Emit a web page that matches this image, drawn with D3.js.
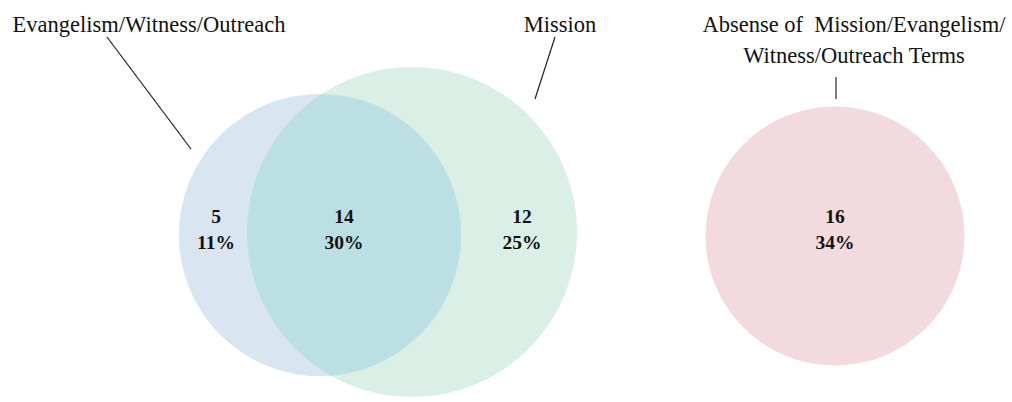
<!DOCTYPE html>
<html>
<head>
<meta charset="utf-8">
<script src="https://cdn.jsdelivr.net/npm/d3@7/dist/d3.min.js"></script>
<style>
  body { margin: 0; background: #fff; }
  text { font-family: "Liberation Serif", "Times New Roman", serif; fill: #111; }
</style>
</head>
<body>
<div id="chart"></div>
<script>
// region counts and shares (evangelism only, both, mission only, neither)
var regionCounts = [5, 14, 12, 16];
var regionPercents = ["11%", "30%", "25%", "34%"];

// set names, one per circle
var setNames = ["Evangelism/Witness/Outreach", "Mission", "Absense of  Mission/Evangelism/|Witness/Outreach Terms"];

// set totals from the regions
var setTotals = [regionCounts[0] + regionCounts[1], regionCounts[1] + regionCounts[2], regionCounts[3]];

var svgWidth = 1012;
var svgHeight = 402;

var svg = d3.select("#chart")
            .append("svg")
            .attr("width", svgWidth)
            .attr("height", svgHeight);

// circle area follows the set size
var rScale = d3.scaleSqrt()
               .domain([0, 16])
               .range([0, 129.5]);

// layout of the circles
var centers = [
  { x: 320, y: 235 },
  { x: 412, y: 232 },
  { x: 835, y: 236 }
];
var fills = ["#d9e6f1", "#daf0e6", "#f2dade"];

var circles = setTotals.map(function(t, i) {
  return { total: t, cx: centers[i].x, cy: centers[i].y, r: rScale(t), fill: fills[i] };
});

// clip for the overlap
svg.append("defs").append("clipPath")
   .attr("id", "clipMission")
   .append("circle")
   .attr("cx", circles[1].cx)
   .attr("cy", circles[1].cy)
   .attr("r", circles[1].r);

svg.selectAll("circle.set").data(circles).enter()
   .append("circle")
   .attr("class", "set")
   .attr("cx", d => d.cx)
   .attr("cy", d => d.cy)
   .attr("r", d => d.r)
   .attr("fill", d => d.fill);

svg.append("circle")
   .attr("cx", circles[0].cx)
   .attr("cy", circles[0].cy)
   .attr("r", circles[0].r)
   .attr("clip-path", "url(#clipMission)")
   .attr("fill", "#bcdfe3");

// region label positions
var regionX = [216, 344, 522, 835];
var regionY = 223;

var labels = svg.selectAll("g.region").data(regionCounts).enter()
   .append("g")
   .attr("class", "region")
   .attr("transform", (d, i) => `translate(${regionX[i]}, ${regionY})`);

labels.append("text")
      .style("font-size", "19.5px")
      .style("font-weight", "bold")
      .style("text-anchor", "middle")
      .text(d => d);

labels.append("text")
      .attr("y", 26)
      .style("font-size", "19.5px")
      .style("font-weight", "bold")
      .style("text-anchor", "middle")
      .text((d, i) => regionPercents[i]);

// set name labels with leader lines
var nameLayout = [
  { x: 149, y: 32, line: [107, 37, 191, 149] },
  { x: 560, y: 32, line: [555, 37, 535, 99] },
  { x: 854, y: 32, line: [836, 77, 836, 99] }
];

setNames.forEach(function(name, i) {
  var lay = nameLayout[i];
  var t = svg.append("text")
             .attr("x", lay.x)
             .attr("y", lay.y)
             .style("font-size", "22.5px")
             .style("text-anchor", "middle");
  name.split("|").forEach(function(part, j) {
    t.append("tspan")
     .attr("x", lay.x)
     .attr("dy", j === 0 ? 0 : 31)
     .attr("xml:space", "preserve")
     .text(part);
  });
  svg.append("line")
     .attr("x1", lay.line[0]).attr("y1", lay.line[1])
     .attr("x2", lay.line[2]).attr("y2", lay.line[3])
     .attr("stroke", "#222")
     .attr("stroke-width", 1.2);
});
</script>
</body>
</html>
